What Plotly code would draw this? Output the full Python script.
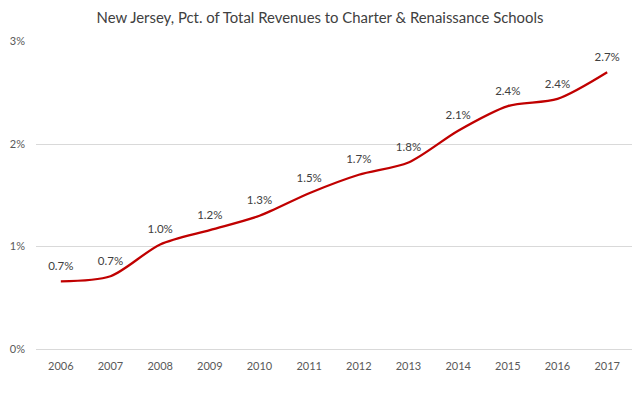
import plotly.graph_objects as go

# School years and share of total revenues (percent)
years = ['2006', '2007', '2008', '2009', '2010', '2011',
         '2012', '2013', '2014', '2015', '2016', '2017']
pct_revenues = [0.66, 0.71, 1.02, 1.16, 1.30, 1.52, 1.70, 1.82, 2.13, 2.37, 2.44, 2.70]
y_ticks = [0, 1, 2, 3]

fig = go.Figure()

fig.add_trace(go.Scatter(
    x=years,
    y=pct_revenues,
    mode='lines+markers+text',
    line=dict(color='#C00000', width=2.3, shape='spline', smoothing=0.8),
    # invisible markers just to lift the labels off the line
    marker=dict(size=12, opacity=0),
    text=[f'{v:.1f}%' for v in pct_revenues],
    textposition='top center',
    textfont=dict(size=11.5, color='#404040'),
    cliponaxis=False,
    hoverinfo='skip',
))

# Layout (page body adds an 8px offset, margins compensate)
fig.update_layout(
    width=640,
    height=411,
    margin=dict(l=28, r=16, t=33, b=70),
    paper_bgcolor='white',
    plot_bgcolor='white',
    showlegend=False,
    font=dict(family='Lato', color='#595959'),
    title=dict(
        text='New Jersey, Pct. of Total Revenues to Charter & Renaissance Schools',
        x=0.4875,
        xanchor='center',
        y=0.976,
        yanchor='middle',
        font=dict(size=14.9, color='#404040'),
    ),
    xaxis=dict(
        type='category',
        range=[-0.5, 11.5],
        showgrid=False,
        showline=False,
        ticks='',
        ticklabelstandoff=9,
        automargin=False,
        tickfont=dict(size=11, color='#595959'),
    ),
    yaxis=dict(
        range=[0, 3.005],
        tickvals=y_ticks,
        ticktext=[f'{t}%' for t in y_ticks],
        showgrid=True,
        gridcolor='#d9d9d9',
        gridwidth=1,
        zeroline=True,
        zerolinecolor='#d9d9d9',
        zerolinewidth=1,
        showline=False,
        ticks='',
        ticklabelstandoff=10,
        automargin=False,
        tickfont=dict(size=11, color='#595959'),
    ),
)

fig.write_html('out.html')
